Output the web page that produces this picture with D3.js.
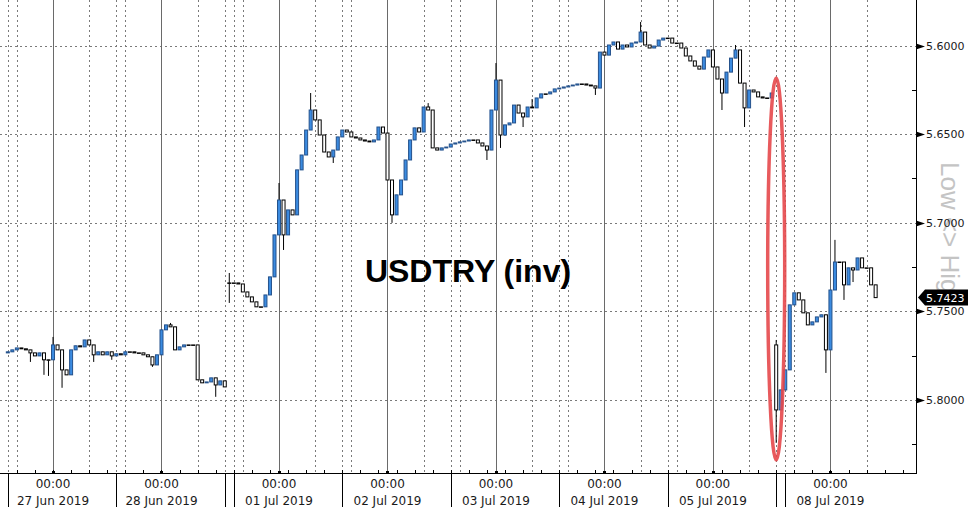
<!DOCTYPE html>
<html><head><meta charset="utf-8">
<script src="https://cdn.jsdelivr.net/npm/d3@7"></script>
<style>html,body{margin:0;padding:0;background:#fff;}svg{display:block;}</style>
</head><body>
<svg id="chart" width="976" height="511"></svg>
<script>
// ---------------- data ----------------
const title = "USDTRY (inv)";
const sideLabel = "Low <> Hig";
const yTicks = [5.60, 5.65, 5.70, 5.75, 5.80];
const yMinorTicks = [5.625, 5.675, 5.725, 5.775, 5.825];
// chart hours (trading-time, weekend compressed), 0 = 00:00 27 Jun 2019
const dayHours = [0, 24, 50, 74, 98, 122, 146, 172];
const timeLabels = ["00:00", "00:00", "00:00", "00:00", "00:00", "00:00", "00:00", "00:00"];
const dayLabels = ["27 Jun 2019", "28 Jun 2019", "01 Jul 2019", "02 Jul 2019", "03 Jul 2019", "04 Jul 2019", "05 Jul 2019", "08 Jul 2019"];
const sessionBreaks = [-10, 14, 38, 40, 64, 88, 112, 136, 160, 162];
const intradayGrid = [-8, 8, 16, 32, 42, 58, 66, 82, 90, 106, 114, 130, 138, 154, 164, 180];

// hourly closes per session block
const week1Start = -10, week1Open = 5.7735;
const week1Close = [5.7729,5.7718,5.7707,5.7712,5.7718,5.7735,5.7752,5.7735,5.7774,5.7774,
  5.7690,5.7718,5.7831,5.7859,5.7718,5.7695,5.7701,5.7662,5.7690,5.7746,
  5.7729,5.7746,5.7729,5.7752,5.7740,5.7746,5.7729,5.7729,5.7735,5.7735,
  5.7746,5.7757,5.7803,5.7746,5.7605,5.7577,5.7588,5.7718,5.7701,5.7690,
  5.7690,5.7690,5.7887,5.7904,5.7899,5.7876,5.7916,5.7893,5.7927];
const week2Start = 39, week2Open = 5.7340;
const week2Close = [5.7340,5.7340,5.7346,5.7391,5.7419,5.7447,5.7475,5.7475,5.7408,5.7306,
  5.7069,5.6872,5.7069,5.6928,5.6956,5.6702,5.6618,5.6477,5.6364,5.6420,
  5.6505,5.6601,5.6629,5.6590,5.6516,5.6477,5.6488,5.6516,5.6522,5.6533,
  5.6539,5.6544,5.6533,5.6460,5.6494,5.6759,5.6956,5.6843,5.6759,5.6646,
  5.6533,5.6465,5.6488,5.6347,5.6364,5.6578,5.6590,5.6578,5.6573,5.6556,
  5.6550,5.6544,5.6539,5.6533,5.6533,5.6550,5.6567,5.6590,5.6364,5.6195,
  5.6505,5.6448,5.6437,5.6336,5.6381,5.6403,5.6347,5.6352,5.6296,5.6273,
  5.6273,5.6262,5.6245,5.6240,5.6234,5.6228,5.6223,5.6217,5.6217,5.6223,
  5.6228,5.6240,5.6037,5.6054,5.5997,5.5980,5.6020,5.5997,5.6008,5.5986,
  5.5980,5.5924,5.5997,5.6014,5.6003,5.5969,5.5958,5.5958,5.5986,5.5986,
  5.6014,5.6059,5.6087,5.6116,5.6133,5.6065,5.6025,5.6121,5.6189,5.6268,
  5.6150,5.6071,5.6025,5.6212,5.6352,5.6251,5.6262,5.6290,5.6296,5.6296,
  5.6268];
const week3Start = 160, week3Open = 5.7690;
const week3Close = [5.8057,5.7944,5.7831,5.7464,5.7396,5.7436,5.7509,5.7577,5.7560,5.7532,
  5.7520,5.7718,5.7380,5.7222,5.7222,5.7351,5.7255,5.7267,5.7199,5.7255,
  5.7255,5.7351,5.7423];
// intrahour extremes [hour, price]
const wickHours = [-5,-2,-1,0,2,9,13,22,26,36,39,39,50,51,55,57,62,75,83,96,98,99,100,104,106,120,130,148,151,153,160,160,171,173,175,177];
const wickPrices = [5.7786,5.7859,5.7865,5.7645,5.7932,5.7786,5.7774,5.7814,5.7566,5.7983,5.7284,5.7453,5.6776,5.7154,5.6674,5.6268,5.6663,5.7001,5.6325,5.6646,5.6099,5.6578,5.6510,5.6460,5.6302,5.6279,5.5867,5.6364,5.5997,5.6460,5.7662,5.8243,5.7848,5.7097,5.7436,5.7335];
// highlighted flash-crash annotation
const highlightHour = 160, highlightRange = [5.6183, 5.8339];

// ---------------- layout ----------------
const W = 976, H = 511;
const plotRight = 916, plotBottom = 473;
const svg = d3.select("#chart");
const x = d3.scaleLinear().domain([-11.73, 190.93]).range([0, plotRight]);
const y = d3.scaleLinear().domain([5.5743, 5.8413]).range([0, plotBottom]);

const gridCol = "#7a7a7a";
svg.append("g").selectAll("line").data(yTicks).join("line")
  .attr("x1", 0).attr("x2", plotRight)
  .attr("y1", d => Math.round(y(d)) + 0.5).attr("y2", d => Math.round(y(d)) + 0.5)
  .attr("stroke", gridCol).attr("stroke-dasharray", "2,3");
svg.append("g").selectAll("line").data(intradayGrid.concat(sessionBreaks)).join("line")
  .attr("x1", d => Math.round(x(d)) + 0.5).attr("x2", d => Math.round(x(d)) + 0.5)
  .attr("y1", 0).attr("y2", plotBottom)
  .attr("stroke", gridCol).attr("stroke-dasharray", "2,3");
svg.append("g").selectAll("line").data(dayHours).join("line")
  .attr("x1", d => Math.round(x(d)) + 0.5).attr("x2", d => Math.round(x(d)) + 0.5)
  .attr("y1", 0).attr("y2", plotBottom)
  .attr("stroke", "#6a6a6a");

svg.append("text").attr("x", 468).attr("y", 282)
  .attr("text-anchor", "middle")
  .attr("font-family", "'Liberation Sans', Arial, sans-serif")
  .attr("font-weight", "bold").attr("font-size", 32)
  .attr("fill", "#000").text(title);

// ---------------- candles ----------------
const candles = [];
[[week1Start, week1Open, week1Close], [week2Start, week2Open, week2Close], [week3Start, week3Open, week3Close]]
  .forEach(([start, open, closes]) => {
    closes.forEach((c, i) => {
      const h = start + i;
      const o = i === 0 ? open : closes[i - 1];
      const ext = wickPrices.filter((p, k) => wickHours[k] === h);
      candles.push({h, o, c, hi: Math.max(o, c, ...ext), lo: Math.min(o, c, ...ext)});
    });
  });
const cg = svg.append("g");
cg.selectAll("line").data(candles).join("line")
  .attr("x1", d => x(d.h)).attr("x2", d => x(d.h))
  .attr("y1", d => y(d.lo)).attr("y2", d => y(d.hi))
  .attr("stroke", "#000").attr("stroke-width", 1);
cg.selectAll("rect").data(candles).join("rect")
  .attr("x", d => x(d.h) - 1.5)
  .attr("width", 3)
  .attr("y", d => Math.min(y(d.o), y(d.c)))
  .attr("height", d => Math.max(0.5, Math.abs(y(d.o) - y(d.c))))
  .attr("fill", d => d.c < d.o ? "#3b8be0" : "#fff")
  .attr("stroke", d => d.c < d.o ? "#25528c" : "#000")
  .attr("stroke-width", 1);

svg.append("ellipse")
  .attr("cx", x(highlightHour)).attr("cy", (y(highlightRange[0]) + y(highlightRange[1])) / 2)
  .attr("rx", 8.5).attr("ry", (y(highlightRange[1]) - y(highlightRange[0])) / 2)
  .attr("fill", "none").attr("stroke", "#e5484b").attr("stroke-width", 3.5).attr("opacity", 0.9);

// ---------------- x axis ----------------
svg.append("line").attr("x1", 0).attr("x2", plotRight + 0.5)
  .attr("y1", plotBottom + 0.5).attr("y2", plotBottom + 0.5).attr("stroke", "#000");
svg.append("g").selectAll("line").data(d3.range(-8, 190, 4)).join("line")
  .attr("x1", d => Math.round(x(d)) + 0.5).attr("x2", d => Math.round(x(d)) + 0.5)
  .attr("y1", plotBottom - 3).attr("y2", plotBottom).attr("stroke", "#000");
svg.append("g").selectAll("rect").data(dayHours).join("rect")
  .attr("x", d => Math.round(x(d)) - 1).attr("y", plotBottom - 2)
  .attr("width", 3).attr("height", 3).attr("fill", "#000");
svg.append("g").selectAll("line").data(sessionBreaks).join("line")
  .attr("x1", d => Math.round(x(d)) + 0.5).attr("x2", d => Math.round(x(d)) + 0.5)
  .attr("y1", plotBottom).attr("y2", 507).attr("stroke", "#000");
const xl = svg.append("g").attr("font-family", "'DejaVu Sans', Verdana, sans-serif")
  .attr("font-size", 12).attr("fill", "#1a1a1a").attr("text-anchor", "middle");
xl.selectAll("text.t").data(dayHours).join("text").attr("class", "t")
  .attr("x", d => x(d)).attr("y", 488).text((d, i) => timeLabels[i]);
xl.selectAll("text.d").data(dayHours).join("text").attr("class", "d")
  .attr("x", d => x(d)).attr("y", 505).text((d, i) => dayLabels[i]);

// ---------------- y axis ----------------
svg.append("text")
  .attr("transform", "translate(941,162) rotate(90)")
  .attr("font-family", "'Liberation Sans', Arial, sans-serif")
  .attr("font-size", 26).attr("fill", "#c4c4c4").text(sideLabel);
svg.append("line").attr("x1", plotRight + 0.5).attr("x2", plotRight + 0.5)
  .attr("y1", 0).attr("y2", plotBottom + 1).attr("stroke", "#000");
svg.append("g").selectAll("line").data(yMinorTicks).join("line")
  .attr("x1", plotRight - 4).attr("x2", plotRight)
  .attr("y1", d => Math.round(y(d)) + 0.5).attr("y2", d => Math.round(y(d)) + 0.5)
  .attr("stroke", "#000");
svg.append("g").selectAll("path").data(yTicks).join("path")
  .attr("d", d => { const yy = Math.round(y(d)) + 0.5; return `M${plotRight},${yy - 3}L${plotRight + 9},${yy}L${plotRight},${yy + 3}Z`; })
  .attr("fill", "#000");
svg.append("g").selectAll("text").data(yTicks).join("text")
  .attr("x", 926).attr("y", d => y(d) + 4)
  .attr("font-family", "'DejaVu Sans', Verdana, sans-serif").attr("font-size", 11)
  .attr("fill", "#1a1a1a").text(d => d3.format(".4f")(d));

const last = week3Close[week3Close.length - 1];
const ly = y(last);
svg.append("path")
  .attr("d", `M918,${ly}L925,${ly - 8}L968,${ly - 8}L968,${ly + 8}L925,${ly + 8}Z`)
  .attr("fill", "#000");
svg.append("text").attr("x", 926).attr("y", ly + 4)
  .attr("font-family", "'DejaVu Sans', Verdana, sans-serif").attr("font-size", 11)
  .attr("fill", "#fff").text(d3.format(".4f")(last));
</script>
</body></html>
